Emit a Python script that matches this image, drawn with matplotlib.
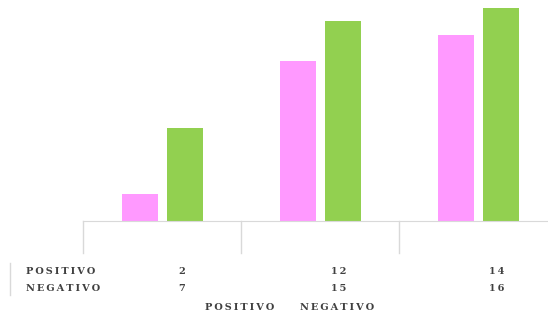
import numpy as np
import matplotlib
matplotlib.use("Agg")
from matplotlib import pyplot as plt
from matplotlib import transforms

series_names = ['POSITIVO', 'NEGATIVO']
positivo = [2, 12, 14]
negativo = [7, 15, 16]
colors = ['#FF99FF', '#92D050']


def spaced(s):
    # letter-spaced text like the original
    return '\u2009'.join(s)


fig = plt.figure(figsize=(5.48, 3.14), dpi=100)
ax = fig.add_axes([83 / 548, 93 / 314, 465 / 548, 221 / 314])

x = np.arange(len(positivo))
w = 0.228
ax.bar(x - 0.142, positivo, w, color=colors[0])
ax.bar(x + 0.142, negativo, w, color=colors[1])
ax.set_xlim(-0.5, 2.44)
ax.set_ylim(0, 16.6)
for s in ['top', 'right', 'left']:
    ax.spines[s].set_visible(False)
ax.spines['bottom'].set_color('#d9d9d9')
ax.set_xticks([])
ax.set_yticks([])

# category separators running down into the table
trans = transforms.blended_transform_factory(ax.transData, ax.transAxes)
for b in [-0.5, 0.5, 1.5]:
    ax.plot([b, b], [0, -0.145], color='#d9d9d9', lw=1, transform=trans, clip_on=False)

# data table
font = dict(family='DejaVu Serif', size=7, color='#404040', weight='bold')
fig.add_artist(plt.Line2D([10 / 548, 10 / 548], [19 / 314, 51 / 314], color='#d9d9d9', lw=1))
rows = [positivo, negativo]
row_y = [271.5, 288.5]
col_x = [185, 346, 504]
for name, vals, yy in zip(series_names, rows, row_y):
    fig.text(26 / 548, 1 - yy / 314, spaced(name), ha='left', va='center', **font)
    for v, xx in zip(vals, col_x):
        fig.text(xx / 548, 1 - yy / 314, spaced(str(v)), ha='right', va='center', **font)

# legend (text only)
fig.text(240 / 548, 1 - 307.5 / 314, spaced(series_names[0]), ha='center', va='center', **font)
fig.text(337 / 548, 1 - 307.5 / 314, spaced(series_names[1]), ha='center', va='center', **font)

fig.savefig('out.png', dpi=100)
